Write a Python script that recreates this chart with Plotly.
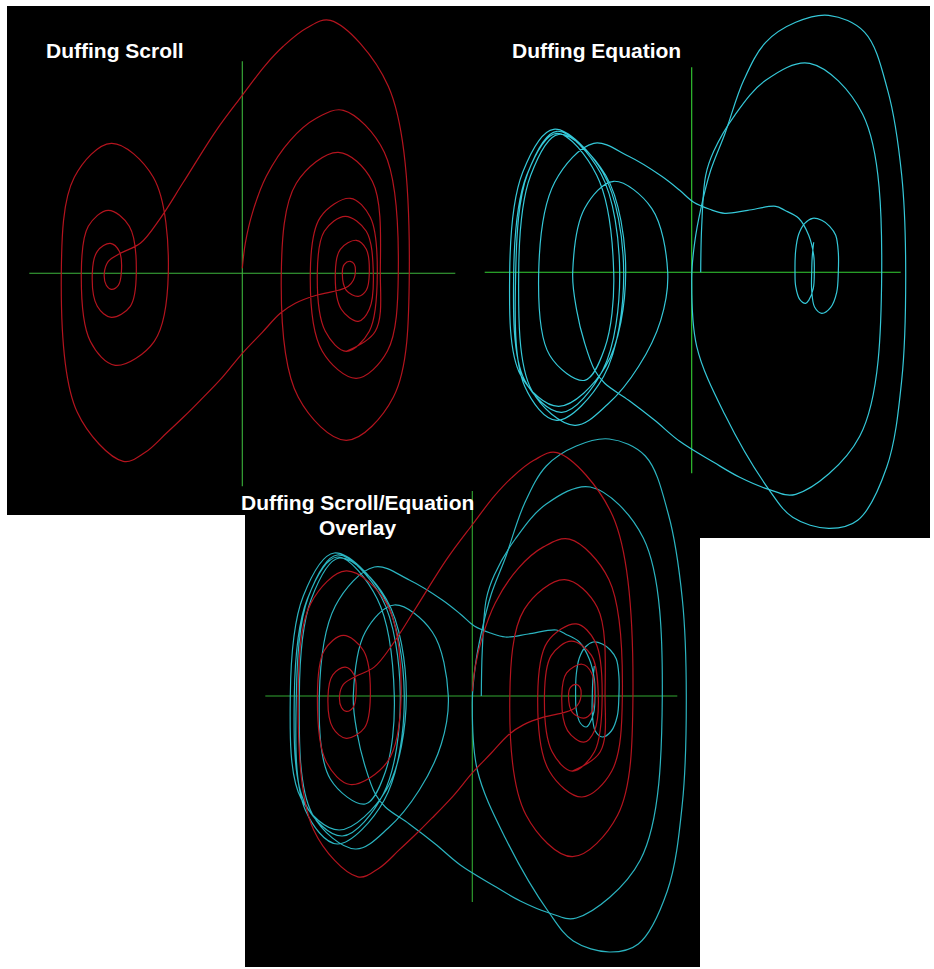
import plotly.graph_objects as go

W, H = 934, 969

# ---------------- data (phase-plane trajectories) ----------------
# Duffing Scroll (red): position, velocity
scroll_x = [0, 3, 10, 24, 48, 74, 101,
            142, 156, 145, 114, 80, 68, 78, 108, 128, 135, 127, 104, 83, 75, 82, 103, 124, 131, 127, 116, 99, 93,
            98, 114, 124, 127, 124, 116, 104, 100, 102, 108, 112, 113,
            111, 106, 96, 74, 53, 38, 20, 0, -20, -42, -59, -76, -97, -119,
            -165, -181, -168, -131, -89, -74, -88, -127, -152, -161, -154, -134, -113, -106, -112, -131, -145, -150,
            -145, -132, -123, -121, -124, -131, -136, -138,
            -134, -122, -102, -82, -59, -26, 0, 23, 41, 64, 88,
            146, 167, 151, 104, 56, 39, 54, 96, 130, 138, 133, 104]
scroll_v = [5, 30, 60, 97, 133, 155, 163,
            121, 0, -78, -105, -78, 0, 56, 75, 56, 0, -58, -78, -58, 0, 42, 57, 42, 0, -36, -48, -36, 0,
            24, 33, 24, 0, -17, -23, -17, 0, 9, 12, 9, 0,
            -7, -13, -17, -22, -30, -40, -59, -80, -104, -127, -144, -160, -179, -188,
            -139, 0, 96, 130, 96, 0, -68, -92, -68, 0, 47, 63, 47, 0, -33, -44, -33, 0,
            22, 30, 22, 0, -12, -16, -12, 0,
            12, 20, 30, 55, 91, 143, 178, 208, 227, 245, 253,
            187, 0, -124, -167, -124, 0, 90, 121, 92, 0, -58, -78]

# Duffing Equation (cyan): main trajectory, then the large outer orbit (after None, closed)
equation_x = [9, 10, 14, 22, 43, 74, 118, 171, 190, 168, 104,
              77, 48, 22, -12, -37, -63, -87, -97, -107, -115, -119,
              -107, -78, -40, -24, -31, -53, -84, -117, -160, -173,
              -161, -133, -86, -66, -86, -133, -171, -182,
              -169, -138, -89, -68, -88, -135, -167, -176,
              -164, -135, -91, -72, -89, -130, -167, -178,
              -165, -135, -95, -78, -87, -107, -142, -153,
              -137, -98,
              -63, -30, -12, 2, 18, 33, 56, 84, 93, 107, 117, 122, 122.6,
              121.6, 117, 114, 108, 104, 103.3, 104, 107, 113, 121, 130, 138, 144, 146.6, 146.6,
              145, 139, 130, 123, 120, 120, 120.5, 122,
              None,
              137, 173, 196, 210, 214, 210, 195, 166, 137, 101, 77, 33, 5, 0, 3, 9, 19, 33, 52, 74, 104, 137]
equation_v = [0, 46, 97, 121, 157, 192, 209, 158, 0, -164, -222,
              -217, -205, -190, -169, -148, -128, -111, -98, -71, -38, 0,
              64, 91, 64, 0, -48, -94, -132, -153, -118, 0,
              97, 138, 97, 0, -94, -134, -103, 0,
              100, 143, 100, 0, -104, -148, -114, 0,
              99, 141, 99, 0, -98, -140, -108, 0,
              97, 139, 97, 0, -76, -108, -83, 0,
              90, 129,
              116, 96, 82, 70, 63, 59, 62, 66, 62, 54, 37, 17, 0,
              -16, -28, -31, -27, -14, 0, 22, 38, 49, 54, 52, 46, 37, 20, 0,
              -20, -35, -41, -35, -18, 0, 15, 30,
              None,
              257, 240, 182, 97, 0, -108, -195, -248, -256, -245, -217, -142, -74, -6, 30, 63, 102, 138, 192, 230, 250, 257]

# green axis spans (data units of each panel)
scroll_axis_x = [-213, 213]
scroll_axis_v = [-213, 212]
equation_axis_x = [-207, 209]
equation_axis_v = [-201, 205]
overlay_axis_x = [-207, 205]
overlay_axis_v = [-206, 205]

# ---------------- layout helpers (pixel geometry of the collage) ----------------
def dom_x(left, right):
    return [left / W, right / W]

def dom_y(top, bottom):
    return [1 - bottom / H, 1 - top / H]

def rng_x(left, right, ox, k):
    return [(left - ox) / k, (right - ox) / k]

def rng_y(top, bottom, oy, k):
    return [(oy - bottom) / k, (oy - top) / k]

# panel rectangles (left, top, right, bottom) and origins
P1 = (7, 6, 484, 515);   O1 = (242.3, 273.3)
P2 = (484, 6, 930, 538); O2 = (691.7, 272.3)
P3 = (245, 430, 700, 967); O3 = (472.3, 696.0)
K_RED_OVERLAY = 0.962
K_CYAN_OVERLAY = 1.0

RED = "#b4141e"
CYAN = "#35c8d8"
CYAN_OV = "#2bb4c0"
GREEN1 = "#3cb43c"
GREEN2 = "#34d034"
GREEN3 = "#32a832"
LW = 1.2

fig = go.Figure()

def add_axes_lines(xs, vs, color, xa, ya):
    fig.add_trace(go.Scatter(x=xs, y=[0, 0], mode="lines", line=dict(color=color, width=1.1),
                             xaxis=xa, yaxis=ya, hoverinfo="skip", showlegend=False))
    fig.add_trace(go.Scatter(x=[0, 0], y=vs, mode="lines", line=dict(color=color, width=1.1),
                             xaxis=xa, yaxis=ya, hoverinfo="skip", showlegend=False))

def add_curve(xs, vs, color, xa, ya):
    fig.add_trace(go.Scatter(x=xs, y=vs, mode="lines",
                             line=dict(color=color, width=LW, shape="spline", smoothing=1.0),
                             connectgaps=False, xaxis=xa, yaxis=ya,
                             hoverinfo="skip", showlegend=False))

# panel 1: scroll
add_axes_lines(scroll_axis_x, scroll_axis_v, GREEN1, "x", "y")
add_curve(scroll_x, scroll_v, RED, "x", "y")
# panel 2: equation
add_axes_lines(equation_axis_x, equation_axis_v, GREEN2, "x2", "y2")
add_curve(equation_x, equation_v, CYAN, "x2", "y2")
# panel 3: overlay (cyan-scale axes x3/y3, red-scale axes x4/y4)
add_axes_lines(overlay_axis_x, overlay_axis_v, GREEN3, "x3", "y3")
add_curve(scroll_x, scroll_v, RED, "x4", "y4")
add_curve(equation_x, equation_v, CYAN_OV, "x3", "y3")

hidden = dict(visible=False, showgrid=False, zeroline=False, fixedrange=True)

fig.update_layout(
    width=W, height=H,
    margin=dict(l=0, r=0, t=0, b=0),
    paper_bgcolor="white",
    plot_bgcolor="rgba(0,0,0,0)",
    xaxis=dict(domain=dom_x(P1[0], P1[2]), range=rng_x(P1[0], P1[2], O1[0], 1), anchor="y", **hidden),
    yaxis=dict(domain=dom_y(P1[1], P1[3]), range=rng_y(P1[1], P1[3], O1[1], 1), anchor="x", **hidden),
    xaxis2=dict(domain=dom_x(P2[0], P2[2]), range=rng_x(P2[0], P2[2], O2[0], 1), anchor="y2", **hidden),
    yaxis2=dict(domain=dom_y(P2[1], P2[3]), range=rng_y(P2[1], P2[3], O2[1], 1), anchor="x2", **hidden),
    xaxis3=dict(domain=dom_x(P3[0], P3[2]), range=rng_x(P3[0], P3[2], O3[0], K_CYAN_OVERLAY), anchor="y3", **hidden),
    yaxis3=dict(domain=dom_y(P3[1], P3[3]), range=rng_y(P3[1], P3[3], O3[1], K_CYAN_OVERLAY), anchor="x3", **hidden),
    xaxis4=dict(domain=dom_x(P3[0], P3[2]), range=rng_x(P3[0], P3[2], O3[0], K_RED_OVERLAY), anchor="y4", **hidden),
    yaxis4=dict(domain=dom_y(P3[1], P3[3]), range=rng_y(P3[1], P3[3], O3[1], K_RED_OVERLAY), anchor="x4", **hidden),
)

# black panel backgrounds
for (l, t, r, b) in (P1, P2, P3):
    fig.add_shape(type="rect", xref="paper", yref="paper",
                  x0=l / W, x1=r / W, y0=1 - b / H, y1=1 - t / H,
                  fillcolor="black", line=dict(width=0), layer="below")

TITLE_FONT = dict(family="Liberation Sans, Arial, sans-serif", size=21, color="white")
titles = [
    ("<b>Duffing Scroll</b>", 44.0, 50.0, "left"),
    ("<b>Duffing Equation</b>", 510.0, 50.0, "left"),
    ("<b>Duffing Scroll/Equation</b>", 357.5, 502.0, "center"),
    ("<b>Overlay</b>", 357.5, 527.0, "center"),
]
for text, px, py, anchor in titles:
    fig.add_annotation(text=text, xref="paper", yref="paper", x=px / W, y=1 - py / H,
                       xanchor=anchor, yanchor="middle", showarrow=False, font=TITLE_FONT)

fig.write_html("out.html", config={"displayModeBar": False})
